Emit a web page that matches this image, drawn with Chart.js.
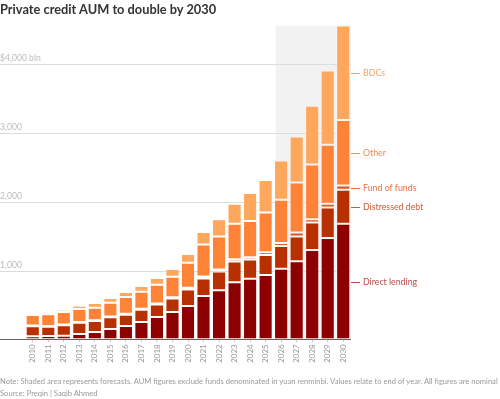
<!DOCTYPE html>
<html><head><meta charset="utf-8">
<script src="https://cdn.jsdelivr.net/npm/chart.js@4"></script>
<style>
html,body{margin:0;padding:0;background:#fff;}
#wrap{position:relative;width:500px;height:399px;overflow:hidden;font-family:Lato,"Open Sans",sans-serif;}
#title{position:absolute;left:0;top:2px;font-size:12.8px;font-weight:bold;color:#333;white-space:nowrap;line-height:15px;}
#note{position:absolute;left:0;top:376px;font-size:7.6px;color:#9a9a9a;white-space:nowrap;line-height:10px;}
#source{position:absolute;left:0;top:388px;font-size:7.6px;color:#9a9a9a;white-space:nowrap;line-height:10px;}
canvas{position:absolute;left:0;top:0;}
</style></head>
<body>
<div id="wrap">
<canvas id="c" width="500" height="399"></canvas>
<div id="title">Private credit AUM to double by 2030</div>
<div id="note">Note: Shaded area represents forecasts. AUM figures exclude funds denominated in yuan renminbi. Values relate to end of year. All figures are nominal</div>
<div id="source">Source: Preqin | Saqib Ahmed</div>
</div>
<script>
const years = ['2010','2011','2012','2013','2014','2015','2016','2017','2018','2019','2020','2021','2022','2023','2024','2025','2026','2027','2028','2029','2030'];
const directLending  = [44,48,52,77,106,150,194,252,325,398,485,631,715,830,882,936,1026,1136,1300,1475,1679];
const distressedDebt = [146,136,152,165,160,170,164,178,180,194,240,254,272,300,277,291,332,358,398,441,495];
const fundOfFunds    = [10,10,10,10,12,13,14,15,15,18,25,30,27,35,35,40,44,58,49,54,62];
const other          = [154,170,183,189,182,200,243,248,275,301,365,463,480,514,528,576,626,728,795,859,953];
const bdcs           = [29,29,34,48,69,68,74,83,98,113,127,184,253,291,404,472,572,670,855,1082,1373];
const seriesNames = ['Direct lending','Distressed debt','Fund of funds','Other','BDCs'];
const yTickValues = [1000,2000,3000,4000];
const yTickLabels = ['1,000','2,000','3,000','$4,000 bln'];
const forecastStartYear = '2026';

const colors = ['#8c0000','#b93000','#e0591c','#ff8336','#ffa75c'];
const labelColors = ['#b84a4a','#cc5a36','#e8743e','#f08a52','#eca472'];
const seriesData = [directLending, distressedDebt, fundOfFunds, other, bdcs];

const overlay = {
  id:'overlay',
  beforeDatasetsDraw(chart){
    const {ctx, chartArea:a, scales:{y}} = chart;
    const idx = years.indexOf(forecastStartYear);
    const m0 = chart.getDatasetMeta(0);
    const topMeta = chart.getDatasetMeta(chart.data.datasets.length-1);
    const first = m0.data[idx];
    const lastTop = topMeta.data[topMeta.data.length-1].y;
    ctx.save();
    ctx.fillStyle = '#f2f2f2';
    const sx = first.x - first.width/2 + 1.5;
    ctx.fillRect(sx, lastTop, a.right - sx, a.bottom - lastTop);
    ctx.lineWidth = 1;
    ctx.font = '8.6px Lato';
    ctx.textBaseline = 'bottom';
    ctx.textAlign = 'left';
    yTickValues.forEach((v,i)=>{
      const py = Math.round(y.getPixelForValue(v)) + 0.5;
      ctx.strokeStyle = '#dcdcdc';
      ctx.beginPath(); ctx.moveTo(0,py); ctx.lineTo(a.right,py); ctx.stroke();
      ctx.fillStyle = '#bbbbbb';
      ctx.fillText(yTickLabels[i], 0, py - 2);
    });
    ctx.restore();
  },
  afterDatasetsDraw(chart){
    const {ctx, chartArea:a} = chart;
    ctx.save();
    ctx.strokeStyle = '#666';
    ctx.lineWidth = 1;
    const by = Math.round(a.bottom) + 0.5;
    ctx.beginPath(); ctx.moveTo(0,by); ctx.lineTo(a.right,by); ctx.stroke();
    ctx.font = '8.8px Lato';
    ctx.textBaseline = 'middle';
    ctx.textAlign = 'left';
    chart.data.datasets.forEach((ds,i)=>{
      const meta = chart.getDatasetMeta(i);
      const el = meta.data[meta.data.length-1];
      const mid = Math.round((el.y + el.base)/2) + 0.5;
      ctx.strokeStyle = labelColors[i];
      ctx.beginPath(); ctx.moveTo(a.right, mid); ctx.lineTo(a.right + 9, mid); ctx.stroke();
      ctx.fillStyle = labelColors[i];
      ctx.fillText(seriesNames[i], a.right + 12, mid);
    });
    ctx.restore();
  }
};

new Chart(document.getElementById('c'), {
  type:'bar',
  data:{
    labels: years,
    datasets: seriesNames.map((n,i)=>({
      label:n, data:seriesData[i], backgroundColor:colors[i],
      borderColor:'rgba(255,255,255,0.25)', borderWidth:1, borderSkipped:false,
      categoryPercentage:1, barPercentage:0.91
    }))
  },
  options:{
    responsive:false, animation:false, devicePixelRatio:1,
    layout:{padding:{left:25,right:149,top:23,bottom:0}},
    plugins:{legend:{display:false},tooltip:{enabled:false}},
    scales:{
      x:{stacked:true,
         grid:{display:true,drawOnChartArea:false,offset:false,tickLength:3,color:'#cccccc'},
         border:{display:false},
         ticks:{minRotation:90,maxRotation:90,autoSkip:false,font:{family:'Lato',size:8},color:'#999',padding:2},
         afterFit(s){ s.height = 59.7; }},
      y:{stacked:true,display:false,min:0,max:4600}
    }
  },
  plugins:[overlay]
});
</script>
</body></html>
